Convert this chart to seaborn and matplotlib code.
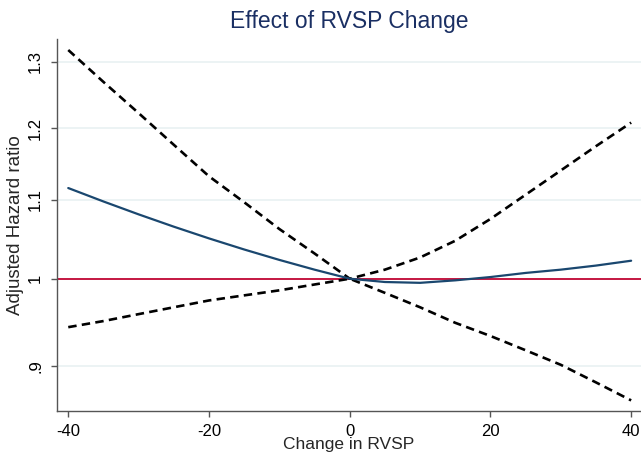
import numpy as np
import pandas as pd
import matplotlib
matplotlib.use("Agg")
import matplotlib.pyplot as plt
import seaborn as sns

# values (x = change in RVSP, y = hazard ratio)
rvsp_change = [-40, -35, -30, -25, -20, -15, -10, -5, 0, 5, 10, 15, 20, 25, 30, 35, 40]
hr_estimate = [1.116, 1.098, 1.081, 1.065, 1.050, 1.036, 1.023, 1.011, 1.000,
               0.996, 0.995, 0.998, 1.002, 1.007, 1.011, 1.016, 1.022]
hr_upper = [1.319, 1.269, 1.222, 1.176, 1.132, 1.097, 1.062, 1.031, 1.000,
            1.011, 1.026, 1.047, 1.075, 1.107, 1.140, 1.174, 1.208]
hr_lower = [0.943, 0.950, 0.958, 0.966, 0.974, 0.980, 0.986, 0.993, 1.000,
            0.983, 0.966, 0.948, 0.933, 0.917, 0.901, 0.882, 0.863]
reference_hr = 1.0

y_ticks = [0.9, 1.0, 1.1, 1.2, 1.3]
y_tick_labels = [".9", "1", "1.1", "1.2", "1.3"]
x_ticks = [-40, -20, 0, 20, 40]

sns.set_style("white")
plt.rcParams['font.family'] = ['Liberation Sans', 'DejaVu Sans']
plt.rcParams['axes.unicode_minus'] = False

df = pd.DataFrame({
    'x': rvsp_change * 3,
    'hr': hr_estimate + hr_upper + hr_lower,
    'series': ['est'] * len(rvsp_change) + ['upper'] * len(rvsp_change) + ['lower'] * len(rvsp_change),
})

fig = plt.figure(figsize=(6.41, 4.55), dpi=100)
ax = fig.add_axes([57 / 641, 1 - 410.5 / 455, (641 - 57) / 641, (410.5 - 39) / 455])

ax.set_yscale('log')
ax.set_xlim(-41.6, 41.4)
ax.set_ylim(0.8525, 1.3367)

# light horizontal grid
for yv in y_ticks:
    ax.axhline(yv, color='#eaf2f3', lw=1.3, zorder=0)

ax.axhline(reference_hr, color='#c10534', lw=1.3, zorder=2)

dash = (3.2, 2.0)
sns.lineplot(data=df[df['series'] == 'upper'], x='x', y='hr', ax=ax, color='black',
             lw=1.9, zorder=3, estimator=None, sort=True)
sns.lineplot(data=df[df['series'] == 'lower'], x='x', y='hr', ax=ax, color='black',
             lw=1.9, zorder=3, estimator=None, sort=True)
for ln in ax.lines[-2:]:
    ln.set_dashes(dash)
sns.lineplot(data=df[df['series'] == 'est'], x='x', y='hr', ax=ax, color='#1a476f',
             lw=1.6, zorder=4, estimator=None, sort=True)

ax.set_yticks(y_ticks)
ax.set_yticklabels(y_tick_labels, rotation=90, va='center')
ax.yaxis.set_minor_locator(matplotlib.ticker.NullLocator())
ax.set_xticks(x_ticks)
ax.set_xticklabels([str(v) for v in x_ticks])

ax.tick_params(axis='both', which='major', direction='out', length=4.5, width=1,
               color='#555555', labelsize=12, labelcolor='black', left=True, bottom=True)
ax.tick_params(axis='y', pad=5.5)
ax.tick_params(axis='x', pad=5)

for side in ['top', 'right']:
    ax.spines[side].set_visible(False)
for side in ['left', 'bottom']:
    ax.spines[side].set_color('#555555')
    ax.spines[side].set_linewidth(1.0)

ax.set_xlabel('Change in RVSP', fontsize=12.5, labelpad=-1)
ax.set_ylabel('Adjusted Hazard ratio', fontsize=13.5, labelpad=3)
ax.set_title('Effect of RVSP Change', fontsize=16.5, color='#1a2f63', pad=8)

fig.savefig('out.png', dpi=100)
